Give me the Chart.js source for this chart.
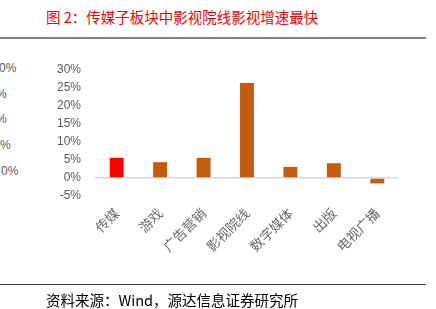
<!DOCTYPE html>
<html>
<head>
<meta charset="utf-8">
<script src="https://cdn.jsdelivr.net/npm/chart.js@4/dist/chart.umd.min.js"></script>
<style>
  html, body { margin: 0; padding: 0; background: #fff; }
  #wrap { position: relative; width: 436px; height: 309px; overflow: hidden; }
  #c { position: absolute; left: 0; top: 0; }
  .title { position: absolute; left: 46px; top: 8px; font: 14.5px "Noto Sans CJK SC", sans-serif; color: #ff0000; white-space: nowrap; line-height: 18px; }
  .rule-top { position: absolute; left: 0; top: 37px; width: 426px; height: 2px; background: #808080; }
  .rule-bottom { position: absolute; left: 0; top: 284px; width: 426px; height: 1px; background: #404040; }
  .source { position: absolute; left: 46px; top: 291px; font: 14.5px "Noto Sans CJK SC", sans-serif; color: #000; white-space: nowrap; line-height: 18px; }
  .side { position: absolute; font: 12px "Liberation Sans", Arial, sans-serif; color: #595959; white-space: nowrap; line-height: 14px; }
</style>
</head>
<body>
<div id="wrap">
  <div class="title">图 2：传媒子板块中影视院线影视增速最快</div>
  <div class="rule-top"></div>
  <div class="side" style="left:-1px; top:61px;">0%</div>
  <div class="side" style="left:-4px; top:87px;">%</div>
  <div class="side" style="left:-4px; top:112px;">%</div>
  <div class="side" style="left:0px; top:138px;">%</div>
  <div class="side" style="left:1px; top:164px;">0%</div>
  <canvas id="c" width="436" height="309"></canvas>
  <div class="rule-bottom"></div>
  <div class="source">资料来源：Wind，源达信息证券研究所</div>
</div>
<script>
// Sub-sector growth rates (%)
const categories = ['传媒', '游戏', '广告营销', '影视院线', '数字媒体', '出版', '电视广播'];
const growth = [5.6, 4.4, 5.6, 26.4, 3.1, 4.1, -1.5];
const tickValues = [-5, 0, 5, 10, 15, 20, 25, 30];

const highlight = '#ff0000';
const base = '#c55a11';
const barColors = categories.map((c, i) => i === 0 ? highlight : base);

new Chart(document.getElementById('c'), {
  type: 'bar',
  data: {
    labels: categories,
    datasets: [{
      data: growth,
      backgroundColor: barColors,
      borderWidth: 0,
      barPercentage: 0.32,
      categoryPercentage: 1.0
    }]
  },
  options: {
    responsive: false,
    animation: false,
    devicePixelRatio: 1,
    layout: { padding: { top: 70, left: 0, right: 37, bottom: 0 } },
    plugins: { legend: { display: false }, tooltip: { enabled: false } },
    scales: {
      x: {
        grid: { display: false, drawTicks: false },
        border: { display: false },
        ticks: {
          color: '#6a6a6a',
          font: { family: '"Noto Sans CJK SC", sans-serif', size: 13.5 },
          minRotation: 45,
          maxRotation: 45,
          padding: 9
        },
        afterFit: (s) => { s.height = 113; }
      },
      y: {
        min: Math.min(...tickValues),
        max: Math.max(...tickValues),
        afterBuildTicks: (s) => { s.ticks = tickValues.map(v => ({ value: v })); },
        grid: {
          drawTicks: false,
          color: (ctx) => (ctx.tick && ctx.tick.value === 0) ? '#d9d9d9' : 'rgba(0,0,0,0)',
          lineWidth: 1.5
        },
        border: { display: false },
        ticks: {
          color: '#595959',
          font: { family: '"Liberation Sans", Arial, sans-serif', size: 12 },
          padding: 14,
          callback: (v) => v + '%'
        },
        afterFit: (s) => { s.width = 95; }
      }
    }
  }
});
</script>
</body>
</html>
